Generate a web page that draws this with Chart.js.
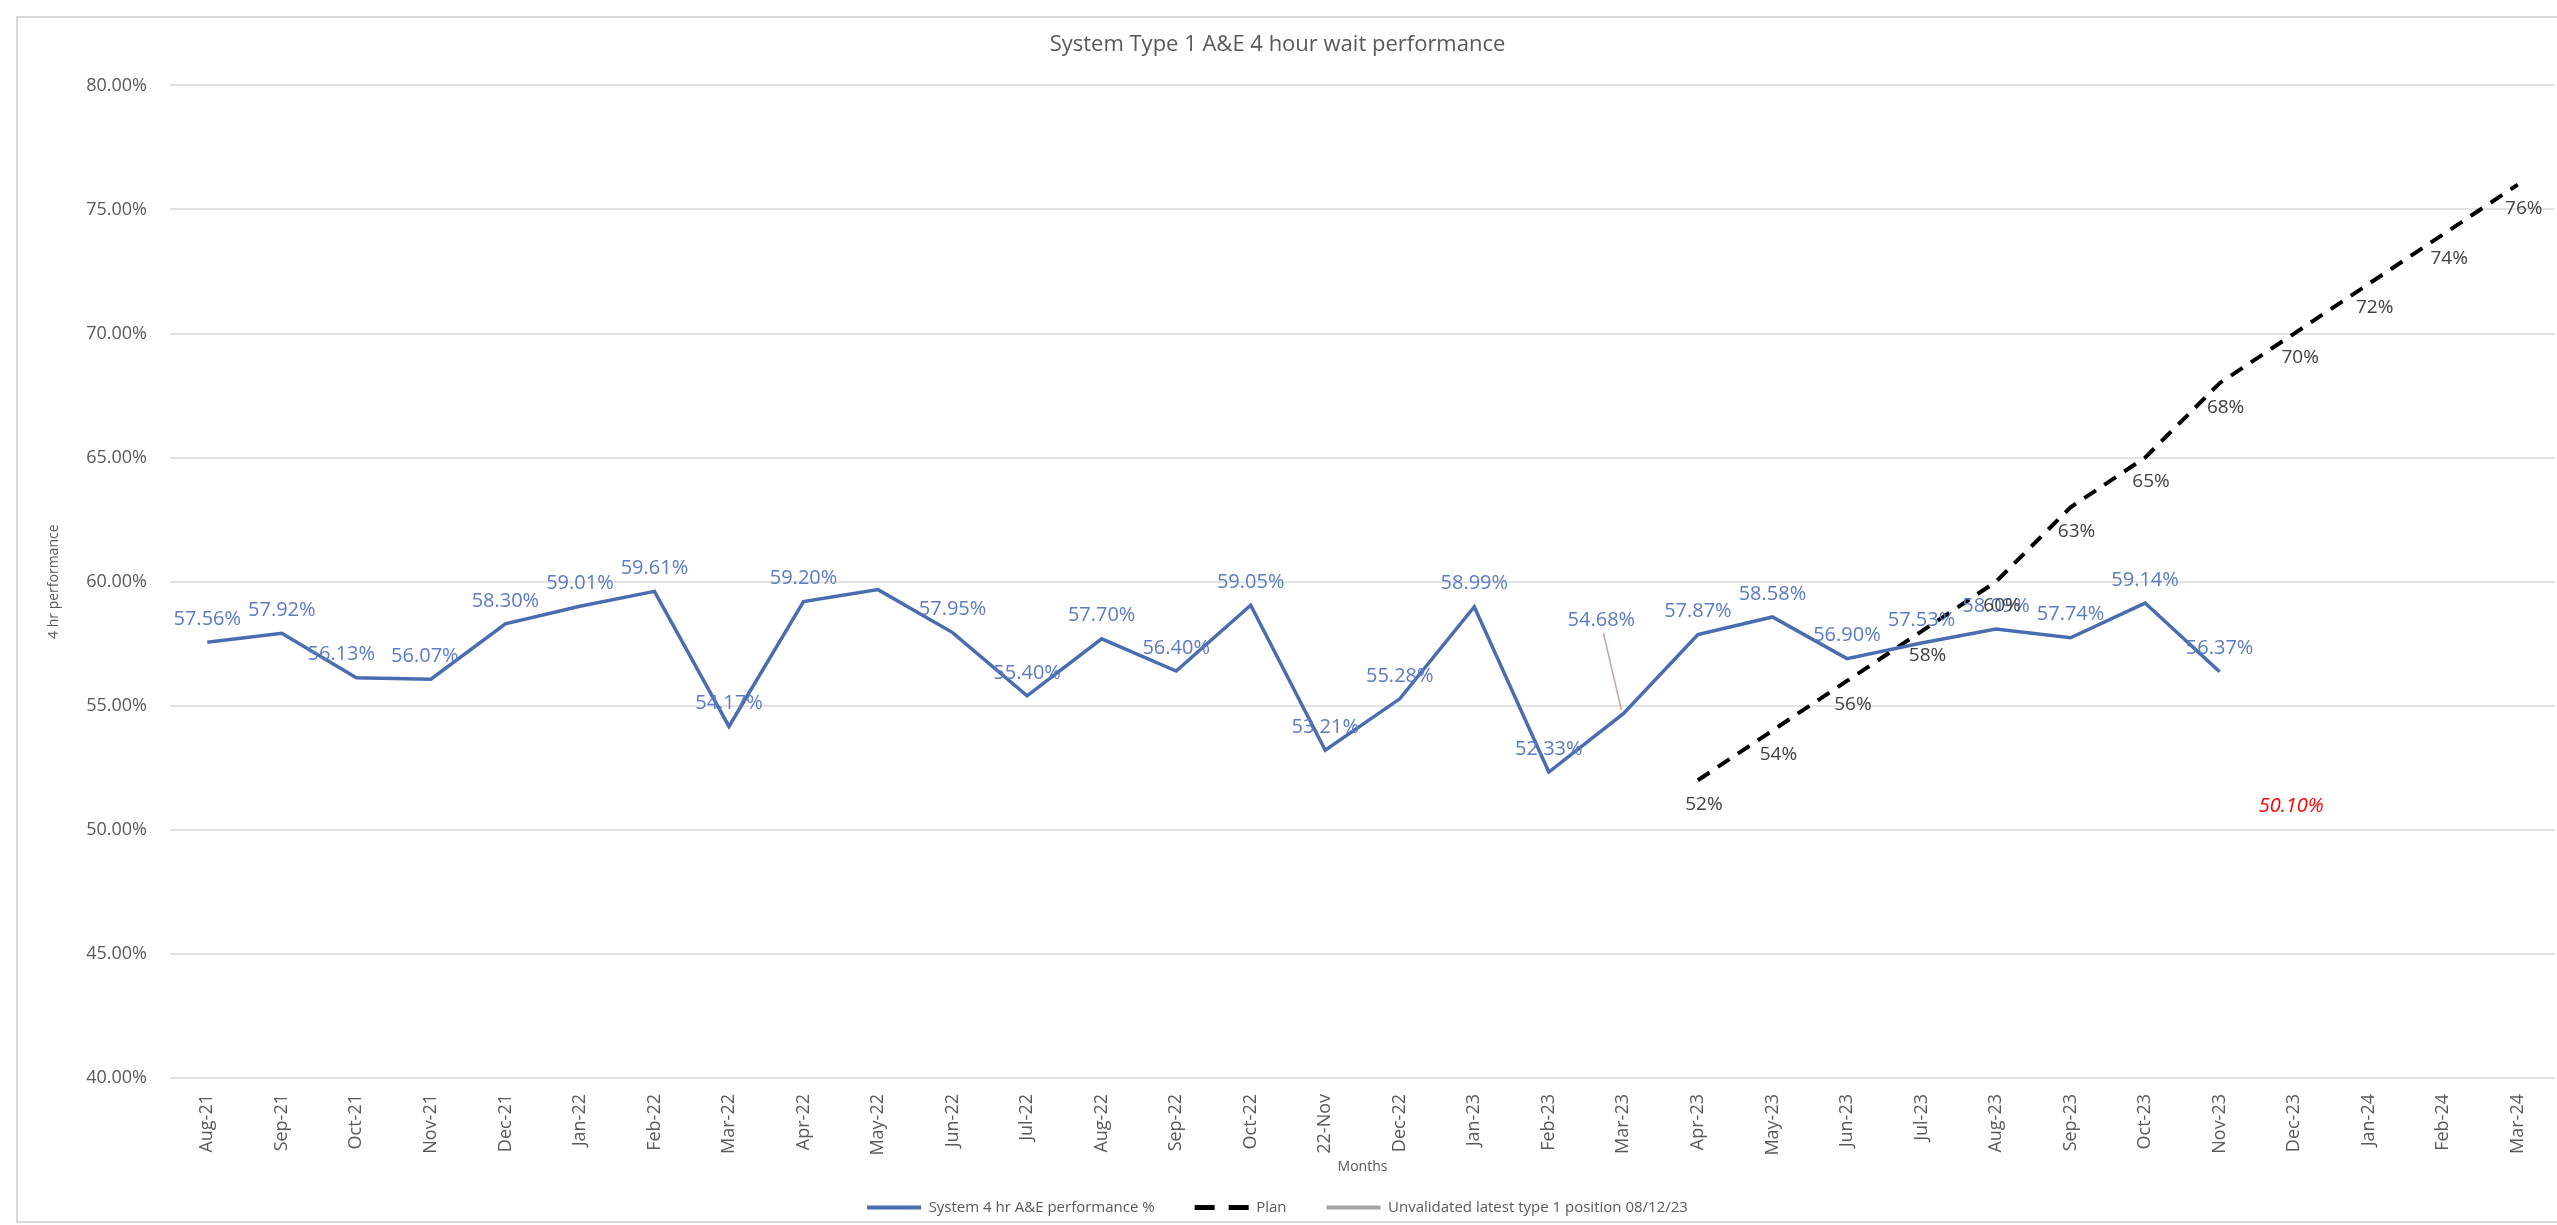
<!DOCTYPE html>
<html>
<head>
<meta charset="utf-8">
<script src="https://cdn.jsdelivr.net/npm/chart.js@4/dist/chart.umd.min.js"></script>
<style>
  html, body { margin: 0; padding: 0; background: #ffffff; overflow: hidden; }
  #wrap { width: 2557px; height: 1225px; position: relative; }
</style>
</head>
<body>
<div id="wrap"><canvas id="c" width="2557" height="1225"></canvas></div>
<script>
// ---- Data ----
const months = ['Aug-21','Sep-21','Oct-21','Nov-21','Dec-21','Jan-22','Feb-22','Mar-22','Apr-22','May-22',
  'Jun-22','Jul-22','Aug-22','Sep-22','Oct-22','22-Nov','Dec-22','Jan-23','Feb-23','Mar-23',
  'Apr-23','May-23','Jun-23','Jul-23','Aug-23','Sep-23','Oct-23','Nov-23','Dec-23','Jan-24','Feb-24','Mar-24'];

const performance = [57.56, 57.92, 56.13, 56.07, 58.30, 59.01, 59.61, 54.17, 59.20, 59.68,
  57.95, 55.40, 57.70, 56.40, 59.05, 53.21, 55.28, 58.99, 52.33, 54.68,
  57.87, 58.58, 56.90, 57.53, 58.09, 57.74, 59.14, 56.37, null, null, null, null];

const plan = [null, null, null, null, null, null, null, null, null, null,
  null, null, null, null, null, null, null, null, null, null,
  52, 54, 56, 58, 60, 63, 65, 68, 70, 72, 74, 76];

const unvalidated = [null, null, null, null, null, null, null, null, null, null,
  null, null, null, null, null, null, null, null, null, null,
  null, null, null, null, null, null, null, null, 50.10, null, null, null];

const seriesNames = ['System 4 hr A&E performance %', 'Plan', 'Unvalidated latest type 1 position 08/12/23'];
const yMin = 40, yMax = 80, yStep = 5;

// ---- Label placement tweaks (style only) ----
const perfLabelHidden = [9];
const perfLabelNudge = { 2: [-15, 0], 3: [-6, 0], 19: [-22, -70] };
const perfLabelLeader = [19];

const GREY = '#595959';
const FONT = '"Open Sans", "Liberation Sans", Arial, sans-serif';

const pointLabelPlugin = {
  id: 'pointLabels',
  afterDatasetsDraw(chart) {
    const ctx = chart.ctx;
    chart.data.datasets.forEach((ds, di) => {
      const cfg = ds.pointLabels;
      if (!cfg) return;
      const meta = chart.getDatasetMeta(di);
      meta.data.forEach((pt, i) => {
        const v = ds.data[i];
        if (v == null) return;
        if (cfg.hide && cfg.hide.includes(i)) return;
        const n = (cfg.nudge && cfg.nudge[i]) || [0, 0];
        const x = pt.x + cfg.dx + n[0];
        const y = pt.y + cfg.dy + n[1];
        ctx.save();
        if (cfg.leader && cfg.leader.includes(i)) {
          ctx.strokeStyle = '#C9A3A3';
          ctx.lineWidth = 1.5;
          ctx.beginPath();
          ctx.moveTo(x + 2, y + 12);
          ctx.lineTo(pt.x - 2, pt.y - 4);
          ctx.stroke();
        }
        ctx.font = cfg.font;
        ctx.fillStyle = cfg.color;
        ctx.textAlign = 'center';
        ctx.textBaseline = 'middle';
        ctx.fillText(cfg.format(v), x, y);
        ctx.restore();
      });
    });
  }
};

const framePlugin = {
  id: 'frame',
  beforeDraw(chart) {
    const ctx = chart.ctx;
    ctx.save();
    ctx.fillStyle = '#ffffff';
    ctx.fillRect(0, 0, chart.width, chart.height);
    ctx.strokeStyle = '#D9D9D9';
    ctx.lineWidth = 2;
    ctx.strokeRect(17, 17, chart.width, chart.height - 20);
    ctx.restore();
  }
};

new Chart(document.getElementById('c'), {
  type: 'line',
  data: {
    labels: months,
    datasets: [
      {
        label: seriesNames[0],
        data: performance,
        borderColor: '#4A6CB0',
        backgroundColor: '#4A6CB0',
        borderWidth: 3.5,
        pointRadius: 0,
        pointHoverRadius: 0,
        tension: 0,
        spanGaps: false,
        pointLabels: {
          dx: 0, dy: -23,
          font: '20px ' + FONT,
          color: '#5B7BC4',
          hide: perfLabelHidden,
          nudge: perfLabelNudge,
          leader: perfLabelLeader,
          format: v => v.toFixed(2) + '%'
        }
      },
      {
        label: seriesNames[1],
        data: plan,
        borderColor: '#000000',
        backgroundColor: '#000000',
        borderWidth: 4,
        borderDash: [14, 10],
        pointRadius: 0,
        pointHoverRadius: 0,
        tension: 0,
        pointLabels: {
          dx: 6, dy: 24,
          font: '19px ' + FONT,
          color: '#404040',
          format: v => v.toFixed(0) + '%'
        }
      },
      {
        label: seriesNames[2],
        data: unvalidated,
        borderColor: '#A5A5A5',
        backgroundColor: '#A5A5A5',
        borderWidth: 3.5,
        pointRadius: 0,
        pointHoverRadius: 0,
        pointLabels: {
          dx: -3, dy: -21,
          font: 'italic 20px ' + FONT,
          color: '#FF0000',
          format: v => v.toFixed(2) + '%'
        }
      }
    ]
  },
  options: {
    responsive: false,
    devicePixelRatio: 1,
    animation: false,
    events: [],
    layout: { padding: { left: 0, right: 2, top: 0, bottom: 0 } },
    plugins: {
      title: {
        display: true,
        text: 'System Type 1 A&E 4 hour wait performance',
        color: GREY,
        font: { family: FONT, size: 22, weight: 'normal' },
        padding: { top: 32, bottom: 27 }
      },
      legend: {
        display: true,
        position: 'bottom',
        align: 'center',
        labels: {
          usePointStyle: true,
          pointStyle: 'line',
          pointStyleWidth: 54,
          boxWidth: 54,
          color: GREY,
          font: { family: FONT, size: 15 },
          padding: 40,
          generateLabels(chart) {
            return chart.data.datasets.map((ds, i) => ({
              text: ds.label,
              fillStyle: ds.borderColor,
              strokeStyle: ds.borderColor,
              lineWidth: i === 1 ? 5 : 4,
              lineDash: i === 1 ? [20, 14] : [],
              lineCap: 'butt',
              pointStyle: 'line',
              hidden: false,
              datasetIndex: i,
              fontColor: GREY
            }));
          }
        }
      },
      tooltip: { enabled: false }
    },
    scales: {
      x: {
        type: 'category',
        offset: true,
        grid: { display: false, drawTicks: false },
        border: { display: false },
        ticks: {
          autoSkip: false,
          maxRotation: 90,
          minRotation: 90,
          padding: 16,
          color: GREY,
          font: { family: FONT, size: 18 }
        },
        title: {
          display: true,
          text: 'Months',
          color: GREY,
          font: { family: FONT, size: 14 },
          padding: { top: 0, bottom: -15 }
        },
        afterFit(scale) { scale.height = 82; }
      },
      y: {
        min: yMin,
        max: yMax,
        grid: { color: '#E3E3E3', lineWidth: 2, drawTicks: false },
        border: { display: false },
        ticks: {
          stepSize: yStep,
          padding: 23,
          color: GREY,
          font: { family: FONT, size: 18 },
          callback: v => Number(v).toFixed(2) + '%'
        },
        title: {
          display: true,
          text: '4 hr performance',
          color: GREY,
          font: { family: FONT, size: 14 },
          padding: { top: 46, bottom: 0 }
        },
        afterFit(scale) { scale.width = 170; }
      }
    }
  },
  plugins: [framePlugin, pointLabelPlugin]
});
</script>
</body>
</html>
